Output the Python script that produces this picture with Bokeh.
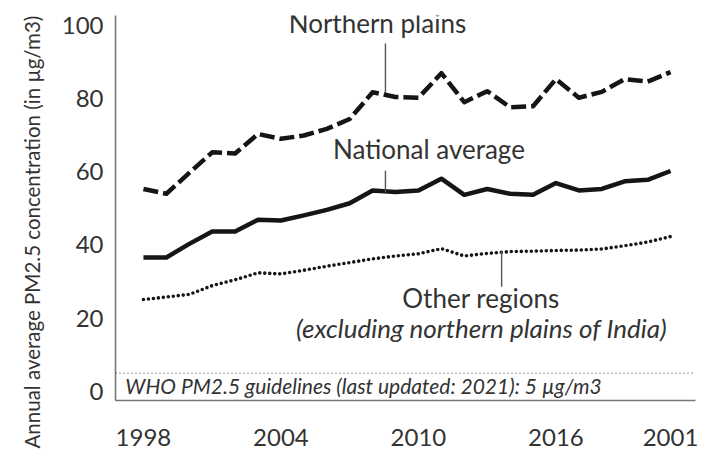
import math
from bokeh.plotting import figure
from bokeh.models import Label, Span, FixedTicker, Range1d, Title
from bokeh.embed import file_html
from bokeh.resources import INLINE

# ---------------- data ----------------
years = list(range(1998, 2022))
northern_plains = [55.3, 54.0, 59.7, 65.3, 65.0, 70.3, 69.0, 69.9, 71.7, 74.4, 81.7, 80.4,
                   80.2, 86.9, 79.0, 82.0, 77.6, 77.9, 85.3, 80.2, 81.8, 85.3, 84.6, 87.2]
national_average = [36.6, 36.6, 40.3, 43.7, 43.7, 46.9, 46.7, 48.1, 49.6, 51.4, 54.9, 54.5,
                    54.9, 58.1, 53.7, 55.3, 54.0, 53.7, 56.9, 54.9, 55.3, 57.4, 57.8, 60.2]
other_regions = [25.1, 25.8, 26.5, 28.9, 30.5, 32.4, 32.1, 33.1, 34.2, 35.2, 36.2, 37.0,
                 37.6, 39.0, 37.0, 37.7, 38.2, 38.3, 38.5, 38.6, 38.9, 39.8, 40.8, 42.3]
who_guideline = 5
x_ticks = [1998, 2004, 2010, 2016, 2021]
x_tick_labels = ["1998", "2004", "2010", "2016", "2001"]
y_ticks = [0, 20, 40, 60, 80, 100]
y_title = "Annual average PM2.5 concentration (in µg/m3)"
who_text = "WHO PM2.5 guidelines (last updated: 2021): 5 µg/m3"

FONT = "Lato"
TXT = "#333333"
INK = "#151515"

p = figure(width=708, height=455, output_backend="svg", toolbar_location=None,
           x_range=Range1d(1996.78, 2022.09), y_range=Range1d(-2.46, 102.66),
           min_border_left=115, min_border_right=13, min_border_top=15, min_border_bottom=55)
p.outline_line_color = None
p.xgrid.visible = False
p.ygrid.visible = False
p.background_fill_color = "white"
p.border_fill_color = "white"

# axes
for ax in (p.xaxis[0], p.yaxis[0]):
    ax.axis_line_color = "#777777"
    ax.axis_line_width = 1.6
    ax.major_tick_line_color = None
    ax.minor_tick_line_color = None
    ax.major_tick_out = 0
    ax.major_tick_in = 0
    ax.major_label_text_font = FONT
    ax.major_label_text_font_size = "24px"
    ax.major_label_text_color = TXT
p.xaxis[0].ticker = FixedTicker(ticks=x_ticks)
p.xaxis[0].major_label_overrides = {t: l for t, l in zip(x_ticks, x_tick_labels)}
p.xaxis[0].major_label_standoff = 28
p.yaxis[0].ticker = FixedTicker(ticks=y_ticks)
p.yaxis[0].major_label_standoff = 12

# y axis title, starting near the bottom like the original
p.add_layout(Title(text=y_title, align="left", offset=-48, standoff=29,
                   text_font=FONT, text_font_size="20.5px", text_font_style="normal",
                   text_color=TXT), "left")

# WHO guideline
p.add_layout(Span(location=who_guideline, dimension="width", line_color="#555555",
                  line_width=1.2, line_dash="1 3"))

# series
p.line(years, northern_plains, line_color=INK, line_width=4.5, line_dash="15 5",
       line_join="round")
p.line(years, national_average, line_color=INK, line_width=4.5, line_join="round")
p.line(years, other_regions, line_color=INK, line_width=3.6, line_dash="0 5",
       line_cap="round", line_join="round")

# leader lines (annotation anchors in data space)
leader_x = [2008.56, 2008.56, 2013.63]
leader_top = [95.0, 60.3, 38.4]
leader_bottom = [81.4, 54.4, 28.6]
p.segment(x0=leader_x, y0=leader_top, x1=leader_x, y1=leader_bottom,
          line_color="#555555", line_width=1.4)

# series labels
def lab(x, y, text, size, style="normal", align="center"):
    p.add_layout(Label(x=x, y=y, text=text, text_font=FONT, text_font_size=size,
                       text_font_style=style, text_color=TXT, text_align=align,
                       text_baseline="alphabetic"))

lab(2008.21, 100.6, "Northern plains", "26px")
lab(2010.46, 66.1, "National average", "26px")
lab(2012.73, 25.5, "Other regions", "26px")
lab(2012.75, 17.4, "(excluding northern plains of India)", "26px", "italic")
lab(1997.21, 1.7, who_text, "21px", "italic", "left")

open("out.html", "w").write(file_html(p, INLINE))
